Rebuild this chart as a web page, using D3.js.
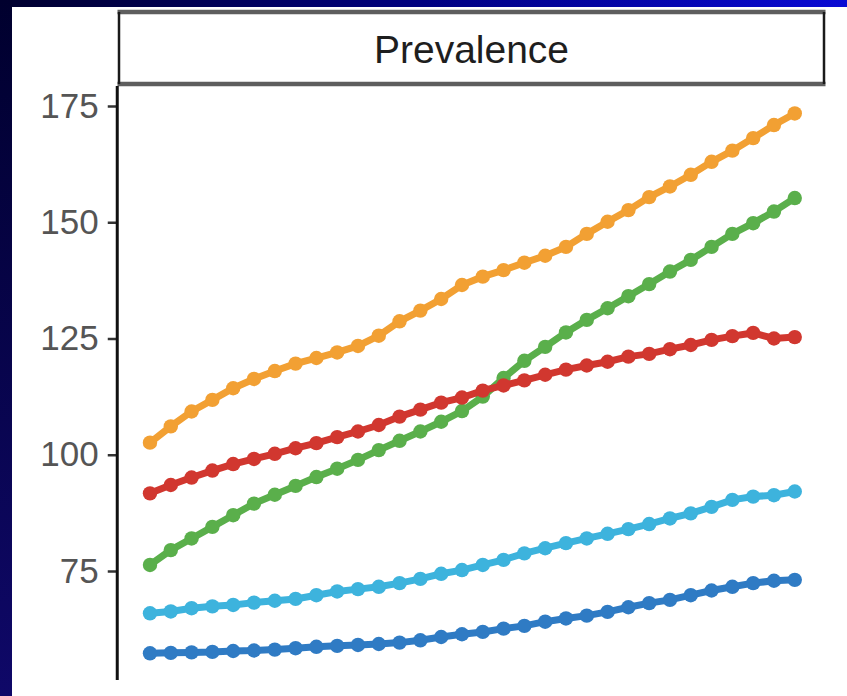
<!DOCTYPE html>
<html>
<head>
<meta charset="utf-8">
<script src="https://cdn.jsdelivr.net/npm/d3@7"></script>
<style>
  html, body { margin: 0; padding: 0; background: #ffffff; }
  svg { display: block; }
</style>
</head>
<body>
<script>
// ---- data ----
const years = d3.range(1990, 2022);
const panelTitle = "Prevalence";
const yTicks = [75, 100, 125, 150, 175];

const seriesOrange = [102.6, 106.1, 109.3, 111.8, 114.3, 116.3, 118.0, 119.6, 120.8, 122.0, 123.4, 125.6, 128.7, 131.0, 133.5, 136.5, 138.3, 139.7, 141.3, 142.8, 144.7, 147.5, 150.1, 152.6, 155.4, 157.7, 160.2, 163.0, 165.4, 168.1, 170.9, 173.4];
const seriesRed = [91.7, 93.5, 95.1, 96.6, 98.0, 99.1, 100.2, 101.4, 102.5, 103.8, 105.0, 106.4, 108.2, 109.7, 111.2, 112.3, 113.8, 114.9, 116.0, 117.2, 118.3, 119.2, 120.0, 121.1, 121.7, 122.7, 123.6, 124.7, 125.5, 126.2, 125.0, 125.3];
const seriesGreen = [76.3, 79.5, 82.0, 84.5, 87.0, 89.5, 91.4, 93.3, 95.2, 97.0, 98.9, 101.0, 103.0, 105.0, 107.1, 109.4, 112.5, 116.5, 120.2, 123.2, 126.3, 129.0, 131.5, 134.1, 136.7, 139.4, 141.9, 144.7, 147.5, 149.8, 152.3, 155.2];
const seriesCyan = [65.9, 66.3, 67.0, 67.4, 67.7, 68.2, 68.6, 69.0, 69.8, 70.6, 71.1, 71.6, 72.4, 73.3, 74.4, 75.2, 76.3, 77.4, 78.8, 79.9, 81.0, 82.0, 83.0, 84.0, 85.1, 86.3, 87.4, 88.8, 90.3, 91.0, 91.3, 92.1];
const seriesBlue = [57.3, 57.4, 57.5, 57.6, 57.8, 57.9, 58.1, 58.4, 58.7, 58.9, 59.1, 59.3, 59.6, 60.1, 60.8, 61.4, 61.9, 62.6, 63.2, 64.1, 64.8, 65.4, 66.2, 67.2, 68.1, 68.8, 69.8, 70.8, 71.6, 72.4, 72.9, 73.1];

const seriesList = [
  { values: seriesBlue,   color: "#2f7bc4" },
  { values: seriesCyan,   color: "#3db3dd" },
  { values: seriesGreen,  color: "#5aaf4b" },
  { values: seriesRed,    color: "#d1372f" },
  { values: seriesOrange, color: "#f2a033" }
];

// ---- layout ----
const W = 847, H = 696;
const svg = d3.select("body").append("svg").attr("width", W).attr("height", H);

const defs = svg.append("defs");
const gTop = defs.append("linearGradient").attr("id", "gTop").attr("x1", "0").attr("x2", "1").attr("y1", "0").attr("y2", "0");
gTop.append("stop").attr("offset", "0").attr("stop-color", "#00002e");
gTop.append("stop").attr("offset", "0.5").attr("stop-color", "#000080");
gTop.append("stop").attr("offset", "1").attr("stop-color", "#0a0ad4");
const gLeft = defs.append("linearGradient").attr("id", "gLeft").attr("x1", "0").attr("x2", "0").attr("y1", "0").attr("y2", "1");
gLeft.append("stop").attr("offset", "0").attr("stop-color", "#00002e");
gLeft.append("stop").attr("offset", "1").attr("stop-color", "#0f0868");

svg.append("rect").attr("x", 0).attr("y", 0).attr("width", W).attr("height", H).attr("fill", "#ffffff");
svg.append("rect").attr("x", 0).attr("y", 0).attr("width", W).attr("height", 7).attr("fill", "url(#gTop)");
svg.append("rect").attr("x", 0).attr("y", 0).attr("width", 12).attr("height", H).attr("fill", "url(#gLeft)");

const panel = { left: 117.75, right: 827, top: 86, bottom: 680 };

const x = d3.scaleLinear()
  .domain([1990 - 0.05 * 31, 2021 + 0.05 * 31])
  .range([panel.left, panel.right]);
const y = d3.scaleLinear()
  .domain([51.56, 179.3])
  .range([panel.bottom, panel.top]);

// strip
const strip = { x0: 119, x1: 824, y0: 12, y1: 84 };
svg.append("rect")
  .attr("x", strip.x0).attr("y", strip.y0)
  .attr("width", strip.x1 - strip.x0).attr("height", strip.y1 - strip.y0)
  .attr("fill", "#ffffff");
[strip.y0, strip.y1].forEach(yy => {
  svg.append("line").attr("x1", strip.x0 - 1.5).attr("x2", strip.x1 + 1.5)
    .attr("y1", yy).attr("y2", yy)
    .attr("stroke", "#5e5e5e").attr("stroke-width", 4.5);
});
[strip.x0, strip.x1].forEach(xx => {
  svg.append("line").attr("x1", xx).attr("x2", xx)
    .attr("y1", strip.y0).attr("y2", strip.y1)
    .attr("stroke", "#1a1a1a").attr("stroke-width", 2.5);
});
svg.append("text")
  .attr("x", 471.5).attr("y", 63)
  .attr("text-anchor", "middle")
  .attr("font-family", "'Liberation Sans', Arial, sans-serif")
  .attr("font-size", 39)
  .attr("fill", "#1e1e1e")
  .text(panelTitle);

// y axis
const yAxis = d3.axisLeft(y).tickValues(yTicks).tickSize(10).tickPadding(9).tickFormat(d3.format("d"));
const gy = svg.append("g").attr("transform", `translate(${panel.left},0)`).call(yAxis);
gy.select(".domain").remove();
gy.selectAll(".tick line").attr("stroke", "#333333").attr("stroke-width", 2.5);
gy.selectAll(".tick text")
  .attr("font-family", "'Liberation Sans', Arial, sans-serif")
  .attr("font-size", 35)
  .attr("fill", "#555555");
svg.append("line")
  .attr("x1", panel.left - 0.5).attr("x2", panel.left - 0.5)
  .attr("y1", panel.top).attr("y2", panel.bottom)
  .attr("stroke", "#111111").attr("stroke-width", 3);

// series
const line = d3.line().x((d, i) => x(years[i])).y(d => y(d));
const plot = svg.append("g");
seriesList.forEach(s => {
  plot.append("path")
    .datum(s.values)
    .attr("d", line)
    .attr("fill", "none")
    .attr("stroke", s.color)
    .attr("stroke-width", 7);
  plot.selectAll(null)
    .data(s.values)
    .enter().append("circle")
    .attr("cx", (d, i) => x(years[i]))
    .attr("cy", d => y(d))
    .attr("r", 7.2)
    .attr("fill", s.color);
});
</script>
</body>
</html>
